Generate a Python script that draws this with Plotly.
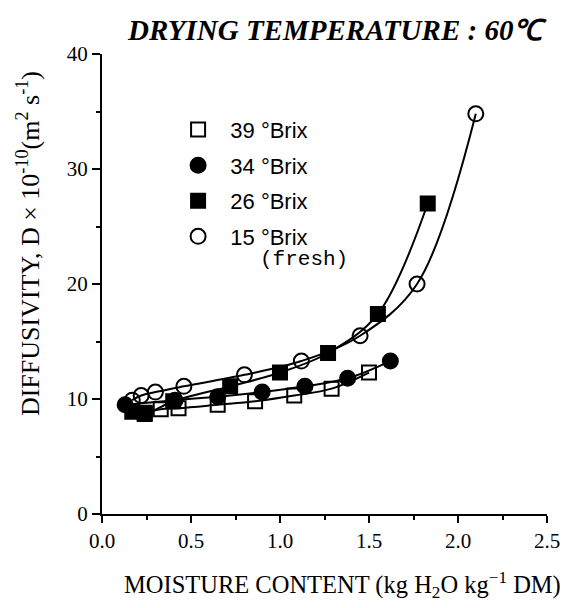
import plotly.graph_objects as go

# ---- data ----
x_39 = [0.24, 0.33, 0.43, 0.65, 0.86, 1.08, 1.29, 1.50]
y_39 = [8.8, 9.1, 9.2, 9.5, 9.8, 10.3, 10.9, 12.3]

x_34 = [0.13, 0.41, 0.65, 0.90, 1.14, 1.38, 1.62]
y_34 = [9.5, 9.9, 10.2, 10.6, 11.1, 11.8, 13.3]

x_26 = [0.17, 0.24, 0.40, 0.72, 1.00, 1.27, 1.55, 1.83]
y_26 = [8.9, 8.7, 9.8, 11.1, 12.3, 14.0, 17.4, 27.0]

x_15 = [0.17, 0.22, 0.30, 0.46, 0.80, 1.12, 1.45, 1.77, 2.10]
y_15 = [9.9, 10.3, 10.6, 11.1, 12.1, 13.3, 15.5, 20.0, 34.8]

NB = "\u00a0"
series = [
    ("39 °Brix", x_39, y_39, "square-open", 14),
    ("34 °Brix", x_34, y_34, "circle", 15),
    ("26 °Brix", x_26, y_26, "square", 14),
    ("15 °Brix", x_15, y_15, "circle-open", 15),
]

fig = go.Figure()
# smooth curves
for name, xs, ys, sym, sz in series:
    fig.add_trace(go.Scatter(x=xs, y=ys, mode="lines",
                             line=dict(color="black", width=2, shape="spline", smoothing=1.0),
                             showlegend=False, hoverinfo="skip"))
# markers
for i, (name, xs, ys, sym, sz) in enumerate(series):
    fig.add_trace(go.Scatter(x=xs, y=ys, mode="markers", name=NB * 2 + name,
                             legendgroup=str(i),
                             marker=dict(symbol=sym, size=sz, color="black",
                                         line=dict(color="black", width=2))))

serif = "Liberation Serif, Times New Roman, serif"
fig.update_layout(
    width=568, height=608,
    margin=dict(l=94, r=29, t=46, b=102),
    paper_bgcolor="white", plot_bgcolor="white",
    font=dict(family=serif, size=21, color="black"),
    showlegend=True,
    legend=dict(x=0.171, y=0.881, xanchor="left", yanchor="top",
                font=dict(family="Liberation Sans, Arial, sans-serif", size=22),
                tracegroupgap=4, valign="top", bgcolor="rgba(0,0,0,0)",
                itemwidth=30),
    xaxis=dict(range=[0, 2.5], tickvals=[0, 0.5, 1.0, 1.5, 2.0, 2.5],
               ticktext=["0.0", "0.5", "1.0", "1.5", "2.0", "2.5"],
               showgrid=False, zeroline=False, showline=True, linecolor="black", linewidth=2,
               ticks="outside", ticklen=7, tickwidth=2, tickcolor="black",
               minor=dict(dtick=0.25, ticks="outside", ticklen=4, tickwidth=2, tickcolor="black",
                          showgrid=False),
               tickfont=dict(family=serif, size=21)),
    yaxis=dict(range=[0, 40], tickvals=[0, 10, 20, 30, 40],
               showgrid=False, zeroline=False, showline=True, linecolor="black", linewidth=2,
               ticks="outside", ticklen=8, tickwidth=2, tickcolor="black",
               minor=dict(dtick=5, ticks="outside", ticklen=4, tickwidth=2, tickcolor="black",
                          showgrid=False),
               tickfont=dict(family=serif, size=21)),
    annotations=[
        dict(text="<b><i>DRYING TEMPERATURE : 60℃</i></b>", xref="paper", yref="paper",
             x=1.004, y=1.052, xanchor="right", yanchor="middle", showarrow=False,
             font=dict(family=serif, size=29)),
        dict(text="DIFFUSIVITY, D × 10<sup>-10</sup>(m<sup>2</sup> s<sup>-1</sup>)",
             xref="paper", yref="paper", x=-0.165, y=0.588, textangle=-90,
             xanchor="center", yanchor="middle", showarrow=False,
             font=dict(family=serif, size=26)),
        dict(text="MOISTURE CONTENT (kg H<sub>2</sub>O kg<sup>−1</sup> DM)",
             xref="paper", yref="paper", x=0.541, y=-0.155,
             xanchor="center", yanchor="middle", showarrow=False,
             font=dict(family=serif, size=24.5)),
        dict(text="(fresh)", xref="paper", yref="paper", x=0.455, y=0.553,
             xanchor="center", yanchor="middle", showarrow=False,
             font=dict(family="Liberation Mono, Courier New, monospace", size=21)),
    ],
)

fig.write_html("out.html")
